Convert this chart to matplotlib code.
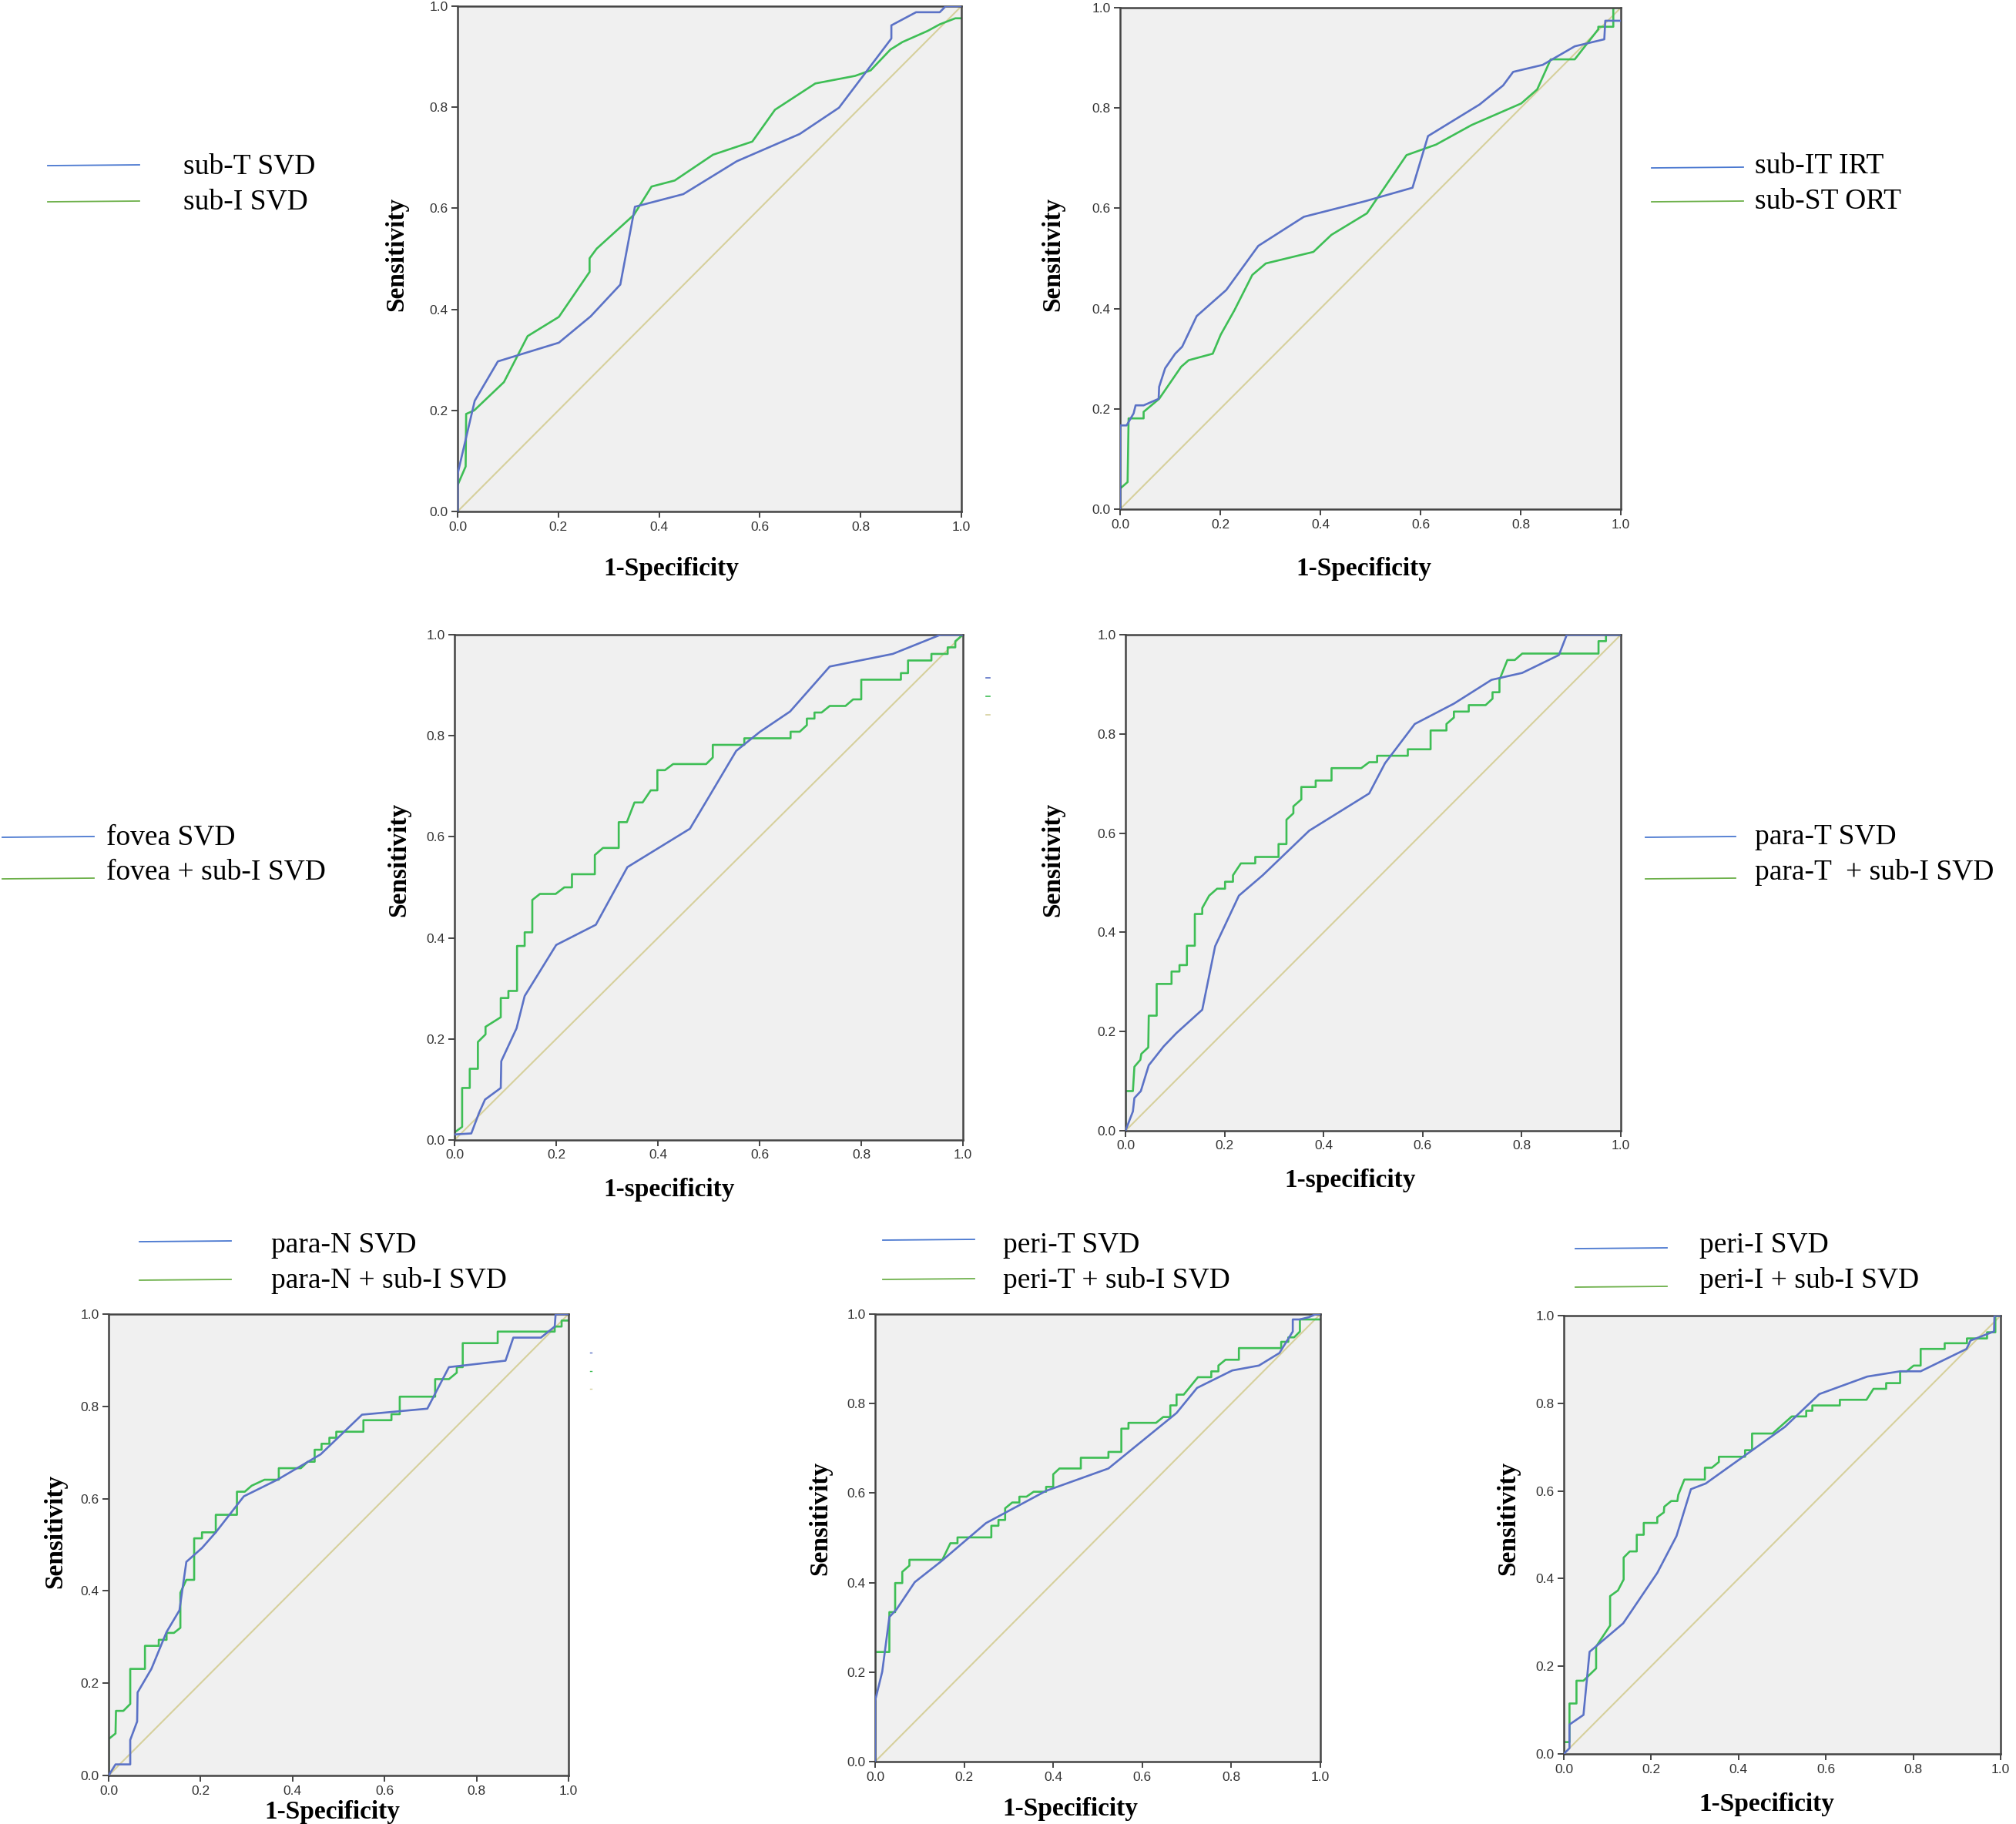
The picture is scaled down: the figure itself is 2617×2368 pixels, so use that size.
import matplotlib
matplotlib.use('Agg')
import matplotlib.pyplot as plt
from matplotlib.ticker import FormatStrFormatter

# ROC curves (1-specificity, sensitivity)
subT_x = [0, 0, 0.034, 0.080, 0.201, 0.264, 0.323, 0.352, 0.448, 0.554, 0.679, 0.757, 0.861, 0.861, 0.910, 0.957, 0.969, 1.0]
subT_y = [0, 0.074, 0.219, 0.297, 0.334, 0.386, 0.449, 0.603, 0.628, 0.693, 0.747, 0.799, 0.936, 0.962, 0.988, 0.988, 1.0, 1.0]
subI_x = [0, 0.016, 0.017, 0.033, 0.092, 0.139, 0.201, 0.262, 0.262, 0.276, 0.350, 0.385, 0.431, 0.507, 0.585, 0.630, 0.710, 0.789, 0.820, 0.859, 0.883, 0.933, 0.957, 0.988, 1.0]
subI_y = [0.052, 0.089, 0.193, 0.200, 0.256, 0.347, 0.385, 0.474, 0.501, 0.520, 0.587, 0.643, 0.655, 0.706, 0.732, 0.795, 0.847, 0.862, 0.873, 0.914, 0.929, 0.951, 0.964, 0.976, 0.976]

subIT_x = [0, 0, 0.013, 0.027, 0.031, 0.047, 0.077, 0.078, 0.090, 0.110, 0.124, 0.153, 0.212, 0.276, 0.367, 0.489, 0.584, 0.615, 0.718, 0.765, 0.785, 0.844, 0.908, 0.967, 0.969, 1.0]
subIT_y = [0, 0.167, 0.167, 0.191, 0.207, 0.207, 0.220, 0.244, 0.281, 0.310, 0.324, 0.385, 0.437, 0.525, 0.583, 0.614, 0.641, 0.744, 0.807, 0.845, 0.872, 0.886, 0.923, 0.937, 0.974, 0.974]
subST_x = [0, 0, 0.015, 0.017, 0.047, 0.047, 0.078, 0.122, 0.137, 0.185, 0.201, 0.228, 0.264, 0.291, 0.386, 0.422, 0.493, 0.572, 0.631, 0.702, 0.801, 0.833, 0.860, 0.908, 0.955, 0.955, 0.970, 0.985, 0.985, 1.0]
subST_y = [0, 0.041, 0.054, 0.181, 0.181, 0.194, 0.220, 0.284, 0.297, 0.310, 0.348, 0.396, 0.467, 0.490, 0.513, 0.547, 0.590, 0.706, 0.727, 0.766, 0.809, 0.837, 0.897, 0.897, 0.957, 0.962, 0.962, 0.962, 1.0, 1.0]

fovea_x = [0, 0.033, 0.048, 0.060, 0.091, 0.092, 0.122, 0.138, 0.200, 0.278, 0.340, 0.463, 0.508, 0.554, 0.601, 0.660, 0.738, 0.862, 0.956, 1.0]
fovea_y = [0.011, 0.013, 0.053, 0.080, 0.103, 0.156, 0.221, 0.285, 0.386, 0.426, 0.540, 0.616, 0.692, 0.770, 0.808, 0.848, 0.937, 0.962, 1.0, 1.0]
foveaI_x = [0, 0, 0.015, 0.015, 0.030, 0.030, 0.046, 0.046, 0.061, 0.061, 0.091, 0.091, 0.106, 0.106, 0.123, 0.123,
            0.138, 0.138, 0.153, 0.153, 0.168, 0.199, 0.216, 0.231, 0.231, 0.276, 0.276, 0.292, 0.323, 0.323, 0.339,
            0.354, 0.370, 0.386, 0.399, 0.399, 0.414, 0.430, 0.495, 0.508, 0.508, 0.570, 0.570, 0.661, 0.661, 0.679,
            0.693, 0.693, 0.708, 0.708, 0.722, 0.738, 0.769, 0.784, 0.800, 0.800, 0.878, 0.878, 0.892, 0.892, 0.938,
            0.938, 0.970, 0.970, 0.985, 0.985, 1.0]
foveaI_y = [0.004, 0.015, 0.026, 0.103, 0.103, 0.141, 0.141, 0.194, 0.209, 0.224, 0.243, 0.281, 0.281, 0.295, 0.295, 0.384,
            0.384, 0.411, 0.411, 0.475, 0.487, 0.487, 0.500, 0.500, 0.526, 0.526, 0.564, 0.578, 0.578, 0.629, 0.629,
            0.668, 0.668, 0.692, 0.692, 0.732, 0.732, 0.744, 0.744, 0.757, 0.782, 0.782, 0.795, 0.795, 0.808, 0.808,
            0.821, 0.834, 0.834, 0.846, 0.846, 0.859, 0.859, 0.872, 0.872, 0.911, 0.911, 0.924, 0.924, 0.949, 0.949,
            0.962, 0.962, 0.975, 0.975, 0.987, 1.0]

paraT_x = [0, 0.015, 0.018, 0.031, 0.047, 0.077, 0.103, 0.155, 0.181, 0.229, 0.277, 0.371, 0.492, 0.524, 0.584, 0.663, 0.739, 0.801, 0.875, 0.891, 1.0]
paraT_y = [0, 0.039, 0.066, 0.080, 0.132, 0.170, 0.197, 0.244, 0.372, 0.474, 0.515, 0.605, 0.680, 0.741, 0.820, 0.861, 0.909, 0.923, 0.959, 1.0, 1.0]
paraTI_x = [0, 0, 0.015, 0.018, 0.030, 0.032, 0.046, 0.047, 0.063, 0.063, 0.093, 0.093, 0.109, 0.109, 0.124, 0.124,
            0.140, 0.140, 0.155, 0.155, 0.169, 0.185, 0.201, 0.201, 0.217, 0.217, 0.233, 0.262, 0.262, 0.309, 0.309,
            0.325, 0.325, 0.339, 0.339, 0.355, 0.355, 0.384, 0.384, 0.416, 0.416, 0.476, 0.492, 0.508, 0.508, 0.570,
            0.570, 0.616, 0.616, 0.648, 0.648, 0.663, 0.663, 0.693, 0.693, 0.727, 0.741, 0.741, 0.755, 0.755, 0.771,
            0.786, 0.801, 0.955, 0.955, 0.970, 0.970, 1.0]
paraTI_y = [0, 0.080, 0.080, 0.129, 0.143, 0.155, 0.168, 0.232, 0.232, 0.296, 0.296, 0.321, 0.321, 0.334, 0.334, 0.373,
            0.373, 0.437, 0.437, 0.449, 0.474, 0.488, 0.488, 0.502, 0.502, 0.515, 0.539, 0.539, 0.552, 0.552, 0.578,
            0.578, 0.627, 0.640, 0.654, 0.668, 0.693, 0.693, 0.706, 0.706, 0.731, 0.731, 0.743, 0.743, 0.756, 0.756,
            0.769, 0.769, 0.807, 0.807, 0.820, 0.833, 0.845, 0.845, 0.858, 0.858, 0.871, 0.884, 0.884, 0.909, 0.949,
            0.949, 0.962, 0.962, 0.987, 0.987, 1.0, 1.0]

paraN_x = [0, 0.015, 0.047, 0.047, 0.062, 0.063, 0.093, 0.126, 0.154, 0.169, 0.203, 0.233, 0.294, 0.367, 0.461, 0.551, 0.693, 0.740, 0.863, 0.880, 0.940, 0.970, 0.972, 1.0]
paraN_y = [0, 0.024, 0.024, 0.077, 0.117, 0.180, 0.231, 0.311, 0.358, 0.463, 0.493, 0.527, 0.605, 0.641, 0.696, 0.782, 0.795, 0.885, 0.899, 0.949, 0.949, 0.973, 1.0, 1.0]
paraNI_x = [0, 0, 0.015, 0.016, 0.032, 0.047, 0.047, 0.079, 0.079, 0.109, 0.109, 0.126, 0.126, 0.142, 0.156, 0.156,
            0.169, 0.186, 0.186, 0.203, 0.203, 0.233, 0.233, 0.279, 0.279, 0.296, 0.311, 0.339, 0.370, 0.370, 0.418,
            0.433, 0.448, 0.448, 0.463, 0.463, 0.480, 0.480, 0.495, 0.495, 0.554, 0.554, 0.615, 0.615, 0.633, 0.633,
            0.710, 0.710, 0.740, 0.757, 0.757, 0.770, 0.770, 0.846, 0.846, 0.970, 0.970, 0.985, 0.985, 1.0]
paraNI_y = [0, 0.079, 0.091, 0.140, 0.140, 0.155, 0.231, 0.231, 0.281, 0.281, 0.294, 0.294, 0.309, 0.309, 0.320, 0.396,
            0.424, 0.424, 0.514, 0.514, 0.527, 0.527, 0.565, 0.565, 0.615, 0.615, 0.628, 0.641, 0.641, 0.666, 0.666,
            0.680, 0.680, 0.706, 0.706, 0.719, 0.719, 0.732, 0.732, 0.745, 0.745, 0.770, 0.770, 0.783, 0.783, 0.821,
            0.821, 0.859, 0.859, 0.873, 0.885, 0.885, 0.937, 0.937, 0.962, 0.962, 0.973, 0.973, 0.986, 0.986]

periT_x = [0, 0, 0.016, 0.032, 0.048, 0.089, 0.149, 0.249, 0.384, 0.524, 0.677, 0.723, 0.802, 0.862, 0.908, 0.938, 0.938, 0.954, 0.974, 0.990, 1.0]
periT_y = [0, 0.136, 0.201, 0.323, 0.340, 0.401, 0.448, 0.533, 0.605, 0.655, 0.779, 0.835, 0.874, 0.885, 0.913, 0.961, 0.988, 0.988, 0.993, 1.0, 1.0]
periTI_x = [0, 0, 0.032, 0.032, 0.045, 0.045, 0.061, 0.061, 0.077, 0.077, 0.151, 0.169, 0.185, 0.185, 0.261, 0.261,
            0.277, 0.277, 0.292, 0.292, 0.308, 0.324, 0.324, 0.340, 0.356, 0.384, 0.384, 0.400, 0.400, 0.414, 0.462,
            0.462, 0.524, 0.524, 0.553, 0.553, 0.569, 0.569, 0.631, 0.647, 0.663, 0.663, 0.677, 0.677, 0.693, 0.725,
            0.755, 0.755, 0.771, 0.771, 0.787, 0.817, 0.817, 0.912, 0.912, 0.928, 0.928, 0.941, 0.954, 0.954, 1.0]
periTI_y = [0, 0.245, 0.245, 0.334, 0.334, 0.399, 0.399, 0.424, 0.438, 0.451, 0.451, 0.488, 0.488, 0.501, 0.501, 0.527,
            0.527, 0.540, 0.540, 0.566, 0.579, 0.579, 0.592, 0.592, 0.603, 0.603, 0.614, 0.614, 0.642, 0.655, 0.655,
            0.679, 0.679, 0.692, 0.692, 0.744, 0.744, 0.757, 0.757, 0.770, 0.770, 0.796, 0.796, 0.820, 0.820, 0.859,
            0.859, 0.872, 0.872, 0.885, 0.898, 0.898, 0.924, 0.924, 0.938, 0.938, 0.948, 0.948, 0.961, 0.988, 0.988]

periI_x = [0, 0.013, 0.013, 0.045, 0.059, 0.136, 0.214, 0.258, 0.291, 0.325, 0.506, 0.585, 0.695, 0.770, 0.817, 0.922, 0.931, 0.985, 0.986, 1.0]
periI_y = [0, 0.013, 0.067, 0.089, 0.233, 0.298, 0.413, 0.497, 0.604, 0.617, 0.746, 0.821, 0.861, 0.873, 0.873, 0.924, 0.943, 0.964, 1.0, 1.0]
periII_x = [0, 0, 0.013, 0.013, 0.029, 0.029, 0.045, 0.074, 0.074, 0.106, 0.106, 0.124, 0.137, 0.137, 0.151, 0.167,
            0.167, 0.183, 0.183, 0.214, 0.214, 0.229, 0.230, 0.246, 0.260, 0.262, 0.276, 0.323, 0.323, 0.339, 0.355,
            0.355, 0.415, 0.415, 0.431, 0.431, 0.478, 0.522, 0.555, 0.555, 0.569, 0.569, 0.632, 0.632, 0.693, 0.709,
            0.738, 0.738, 0.770, 0.770, 0.785, 0.801, 0.817, 0.817, 0.872, 0.872, 0.923, 0.923, 0.969, 0.969, 0.988,
            0.988, 1.0]
periII_y = [0, 0.027, 0.027, 0.115, 0.115, 0.167, 0.167, 0.195, 0.245, 0.293, 0.360, 0.373, 0.398, 0.448, 0.462, 0.462,
            0.500, 0.500, 0.527, 0.527, 0.540, 0.551, 0.564, 0.577, 0.577, 0.591, 0.626, 0.626, 0.653, 0.653, 0.666,
            0.678, 0.678, 0.693, 0.693, 0.731, 0.731, 0.770, 0.770, 0.783, 0.783, 0.795, 0.795, 0.808, 0.808, 0.833,
            0.833, 0.846, 0.846, 0.873, 0.873, 0.886, 0.886, 0.924, 0.924, 0.937, 0.937, 0.948, 0.948, 0.962, 0.962,
            1.0, 1.0]

legend_labels = [
    ('sub-T SVD', 'sub-I SVD'),
    ('sub-IT IRT', 'sub-ST ORT'),
    ('fovea SVD', 'fovea + sub-I SVD'),
    ('para-T SVD', 'para-T  + sub-I SVD'),
    ('para-N SVD', 'para-N + sub-I SVD'),
    ('peri-T SVD', 'peri-T + sub-I SVD'),
    ('peri-I SVD', 'peri-I + sub-I SVD'),
]
xlabels = ['1-Specificity', '1-Specificity', '1-specificity', '1-specificity',
           '1-Specificity', '1-Specificity', '1-Specificity']
ticks = [0.0, 0.2, 0.4, 0.6, 0.8, 1.0]

curves = [
    (subT_x, subT_y, subI_x, subI_y),
    (subIT_x, subIT_y, subST_x, subST_y),
    (fovea_x, fovea_y, foveaI_x, foveaI_y),
    (paraT_x, paraT_y, paraTI_x, paraTI_y),
    (paraN_x, paraN_y, paraNI_x, paraNI_y),
    (periT_x, periT_y, periTI_x, periTI_y),
    (periI_x, periI_y, periII_x, periII_y),
]

# layout in pixels: axes box, xlabel centre, ylabel centre, legend (line x0, x1, y1, y2, text x, ty1, ty2)
W, H = 2617, 2368
boxes = [(594, 8, 1248, 664), (1454, 10, 2104, 661), (590, 824, 1250, 1480), (1461, 824, 2104, 1468),
         (141, 1706, 738, 2305), (1136, 1706, 1714, 2287), (2030, 1708, 2597, 2277)]
xlab_pos = [(871, 738), (1770, 738), (869, 1545), (1753, 1532), (431, 2352), (1389, 2348), (2293, 2343)]
ylab_pos = [(515, 330), (1367, 330), (518, 1116), (1367, 1116), (72, 1988), (1065, 1971), (1958, 1971)]
leg_pos = [(62, 181, 215, 262, 238, 216, 262), (2144, 2263, 218, 262, 2278, 216, 262),
           (3, 122, 1087, 1141, 138, 1087, 1132), (2136, 2253, 1087, 1141, 2278, 1087, 1132),
           (181, 300, 1612, 1662, 352, 1617, 1662), (1146, 1265, 1610, 1661, 1302, 1617, 1662),
           (2045, 2164, 1621, 1671, 2206, 1617, 1662)]

blue = '#5B72C6'
green = '#3EBE55'
diag = '#D6D09C'
serif = 'Liberation Serif'

fig = plt.figure(figsize=(W / 100, H / 100), dpi=100)
overlay = fig.add_axes([0, 0, 1, 1])
overlay.set_xlim(0, W)
overlay.set_ylim(H, 0)
overlay.axis('off')

for i in range(7):
    x0, y0, x1, y1 = boxes[i]
    ax = fig.add_axes([x0 / W, 1 - y1 / H, (x1 - x0) / W, (y1 - y0) / H])
    ax.set_facecolor('#F0F0F0')
    bx, by, gx, gy = curves[i]
    ax.plot([0, 1], [0, 1], color=diag, lw=1.5, zorder=1)
    ax.plot(bx, by, color=blue, lw=1.9, zorder=3)
    ax.plot(gx, gy, color=green, lw=1.9, zorder=2)
    ax.set_xlim(0, 1)
    ax.set_ylim(0, 1)
    ax.set_xticks(ticks)
    ax.set_yticks(ticks)
    ax.xaxis.set_major_formatter(FormatStrFormatter('%.1f'))
    ax.yaxis.set_major_formatter(FormatStrFormatter('%.1f'))
    ax.tick_params(length=6, width=1.4, color='#444444', labelsize=12.5, labelcolor='#333333', pad=3)
    for lab in ax.get_xticklabels() + ax.get_yticklabels():
        lab.set_family('Liberation Sans')
    for sp in ax.spines.values():
        sp.set_color('#444444')
        sp.set_linewidth(1.8)

    xl = xlab_pos[i]
    yl = ylab_pos[i]
    overlay.text(xl[0], xl[1], xlabels[i], family=serif, fontweight='bold', fontsize=24,
                 ha='center', va='center')
    overlay.text(yl[0], yl[1], 'Sensitivity', family=serif, fontweight='bold', fontsize=24,
                 ha='center', va='center', rotation=90)

    lx0, lx1, ly1, ly2, tx, ty1, ty2 = leg_pos[i]
    overlay.plot([lx0, lx1], [ly1, ly1 - 1], color='#4A78D0', lw=1.3)
    overlay.plot([lx0, lx1], [ly2, ly2 - 1], color='#6DB04A', lw=1.3)
    overlay.text(tx, ty1, legend_labels[i][0], family=serif, fontsize=27, ha='left', va='center')
    overlay.text(tx, ty2, legend_labels[i][1], family=serif, fontsize=27, ha='left', va='center')

# leftover legend dashes next to the fovea and para-N panels
for yy, cc in zip([880, 904, 928], [blue, green, diag]):
    overlay.plot([1280, 1285], [yy, yy], color=cc, lw=1.2)
for yy, cc in zip([1756, 1780, 1803], [blue, green, diag]):
    overlay.plot([766, 768], [yy, yy], color=cc, lw=1.0)

fig.savefig('out.png', dpi=100)
